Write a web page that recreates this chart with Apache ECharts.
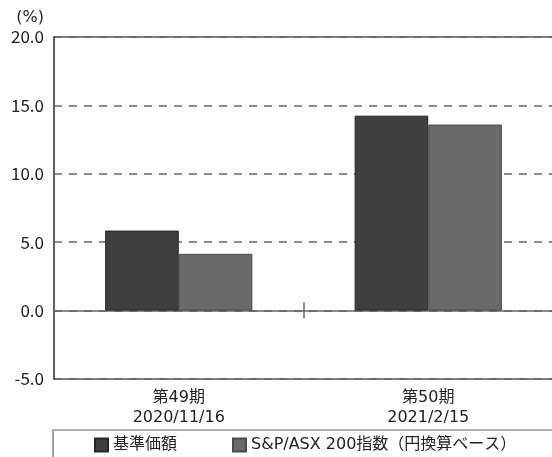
<!DOCTYPE html>
<html>
<head>
<meta charset="utf-8">
<script src="https://cdn.jsdelivr.net/npm/echarts@6/dist/echarts.min.js"></script>
<style>
  html, body { margin: 0; padding: 0; background: #fff; }
  #chart { width: 552px; height: 457px; }
</style>
</head>
<body>
<div id="chart"></div>
<script>
// Period labels (two lines: period number and date)
const categories = ['第49期\n2020/11/16', '第50期\n2021/2/15'];
// Returns per period (%)
const fundValues = [5.85, 14.25];
const indexValues = [4.15, 13.6];
const seriesNames = ['基準価額', 'S&P/ASX 200指数（円換算ベース）'];
// Value axis range and step
const yMin = -5, yMax = 20, yStep = 5;

const FONT = '"Noto Sans CJK JP", "Noto Sans", sans-serif';
const LABEL_FONT = '"DejaVu Sans", "Noto Sans CJK JP", sans-serif';
const chart = echarts.init(document.getElementById('chart'), null, { renderer: 'canvas' });

const hiddenCategoryAxis = (extra) => Object.assign({
  type: 'category',
  data: categories,
  position: 'bottom',
  axisLabel: { show: false },
  splitLine: { show: false }
}, extra);

chart.setOption({
  animation: false,
  textStyle: { fontFamily: FONT },
  grid: {
    left: 54, right: -1, top: 37, bottom: 78,
    outerBoundsMode: 'none',
    containLabel: false,
    show: true, borderColor: '#555', borderWidth: 1.5, backgroundColor: 'transparent'
  },
  legend: {
    left: 53, top: 430, width: 700,
    padding: [7, 70, 20, 41],
    borderColor: '#666', borderWidth: 1.2,
    itemWidth: 13, itemHeight: 13, itemGap: 55,
    icon: 'rect',
    textStyle: { fontFamily: LABEL_FONT, fontSize: 16, color: '#222' },
    data: seriesNames
  },
  xAxis: [
    // period labels along the bottom edge
    {
      type: 'category',
      data: categories,
      position: 'bottom',
      axisLine: { show: false, onZero: false },
      axisTick: { show: false },
      axisLabel: {
        color: '#222', fontFamily: LABEL_FONT, fontSize: 16, lineHeight: 20, margin: 9
      }
    },
    // zero line, tick pointing down
    hiddenCategoryAxis({
      axisLine: { show: true, onZero: true, onZeroAxisIndex: 0, lineStyle: { color: '#666', width: 1.5 } },
      axisTick: { show: true, length: 8, lineStyle: { color: '#666', width: 1.5 } }
    }),
    // zero line, tick pointing up
    hiddenCategoryAxis({
      axisLine: { show: false, onZero: true, onZeroAxisIndex: 0 },
      axisTick: { show: true, inside: true, length: 8, lineStyle: { color: '#666', width: 1.5 } }
    })
  ],
  yAxis: {
    type: 'value',
    min: yMin, max: yMax, interval: yStep,
    axisLine: { show: true, lineStyle: { color: '#555', width: 1.5 } },
    axisTick: { show: false },
    axisLabel: {
      color: '#222', fontFamily: FONT, fontSize: 17, margin: 10,
      formatter: (v) => v.toFixed(1)
    },
    splitLine: {
      show: true,
      lineStyle: { color: '#666', width: 1.5, type: [8, 7] }
    },
    name: '(%)',
    nameLocation: 'end',
    nameGap: 11,
    nameTextStyle: { color: '#222', fontFamily: LABEL_FONT, fontSize: 16, align: 'right', padding: [0, 10, 0, 0] }
  },
  series: [
    {
      name: seriesNames[0], type: 'bar', xAxisIndex: 0,
      data: fundValues,
      barGap: '0%', barCategoryGap: '41%',
      itemStyle: { color: '#3f3f3f', borderColor: '#262626', borderWidth: 1 },
      z: 3
    },
    {
      name: seriesNames[1], type: 'bar', xAxisIndex: 0,
      data: indexValues,
      barGap: '0%', barCategoryGap: '41%',
      itemStyle: { color: '#6a6a6a', borderColor: '#4a4a4a', borderWidth: 1 },
      z: 3
    }
  ]
});
</script>
</body>
</html>
